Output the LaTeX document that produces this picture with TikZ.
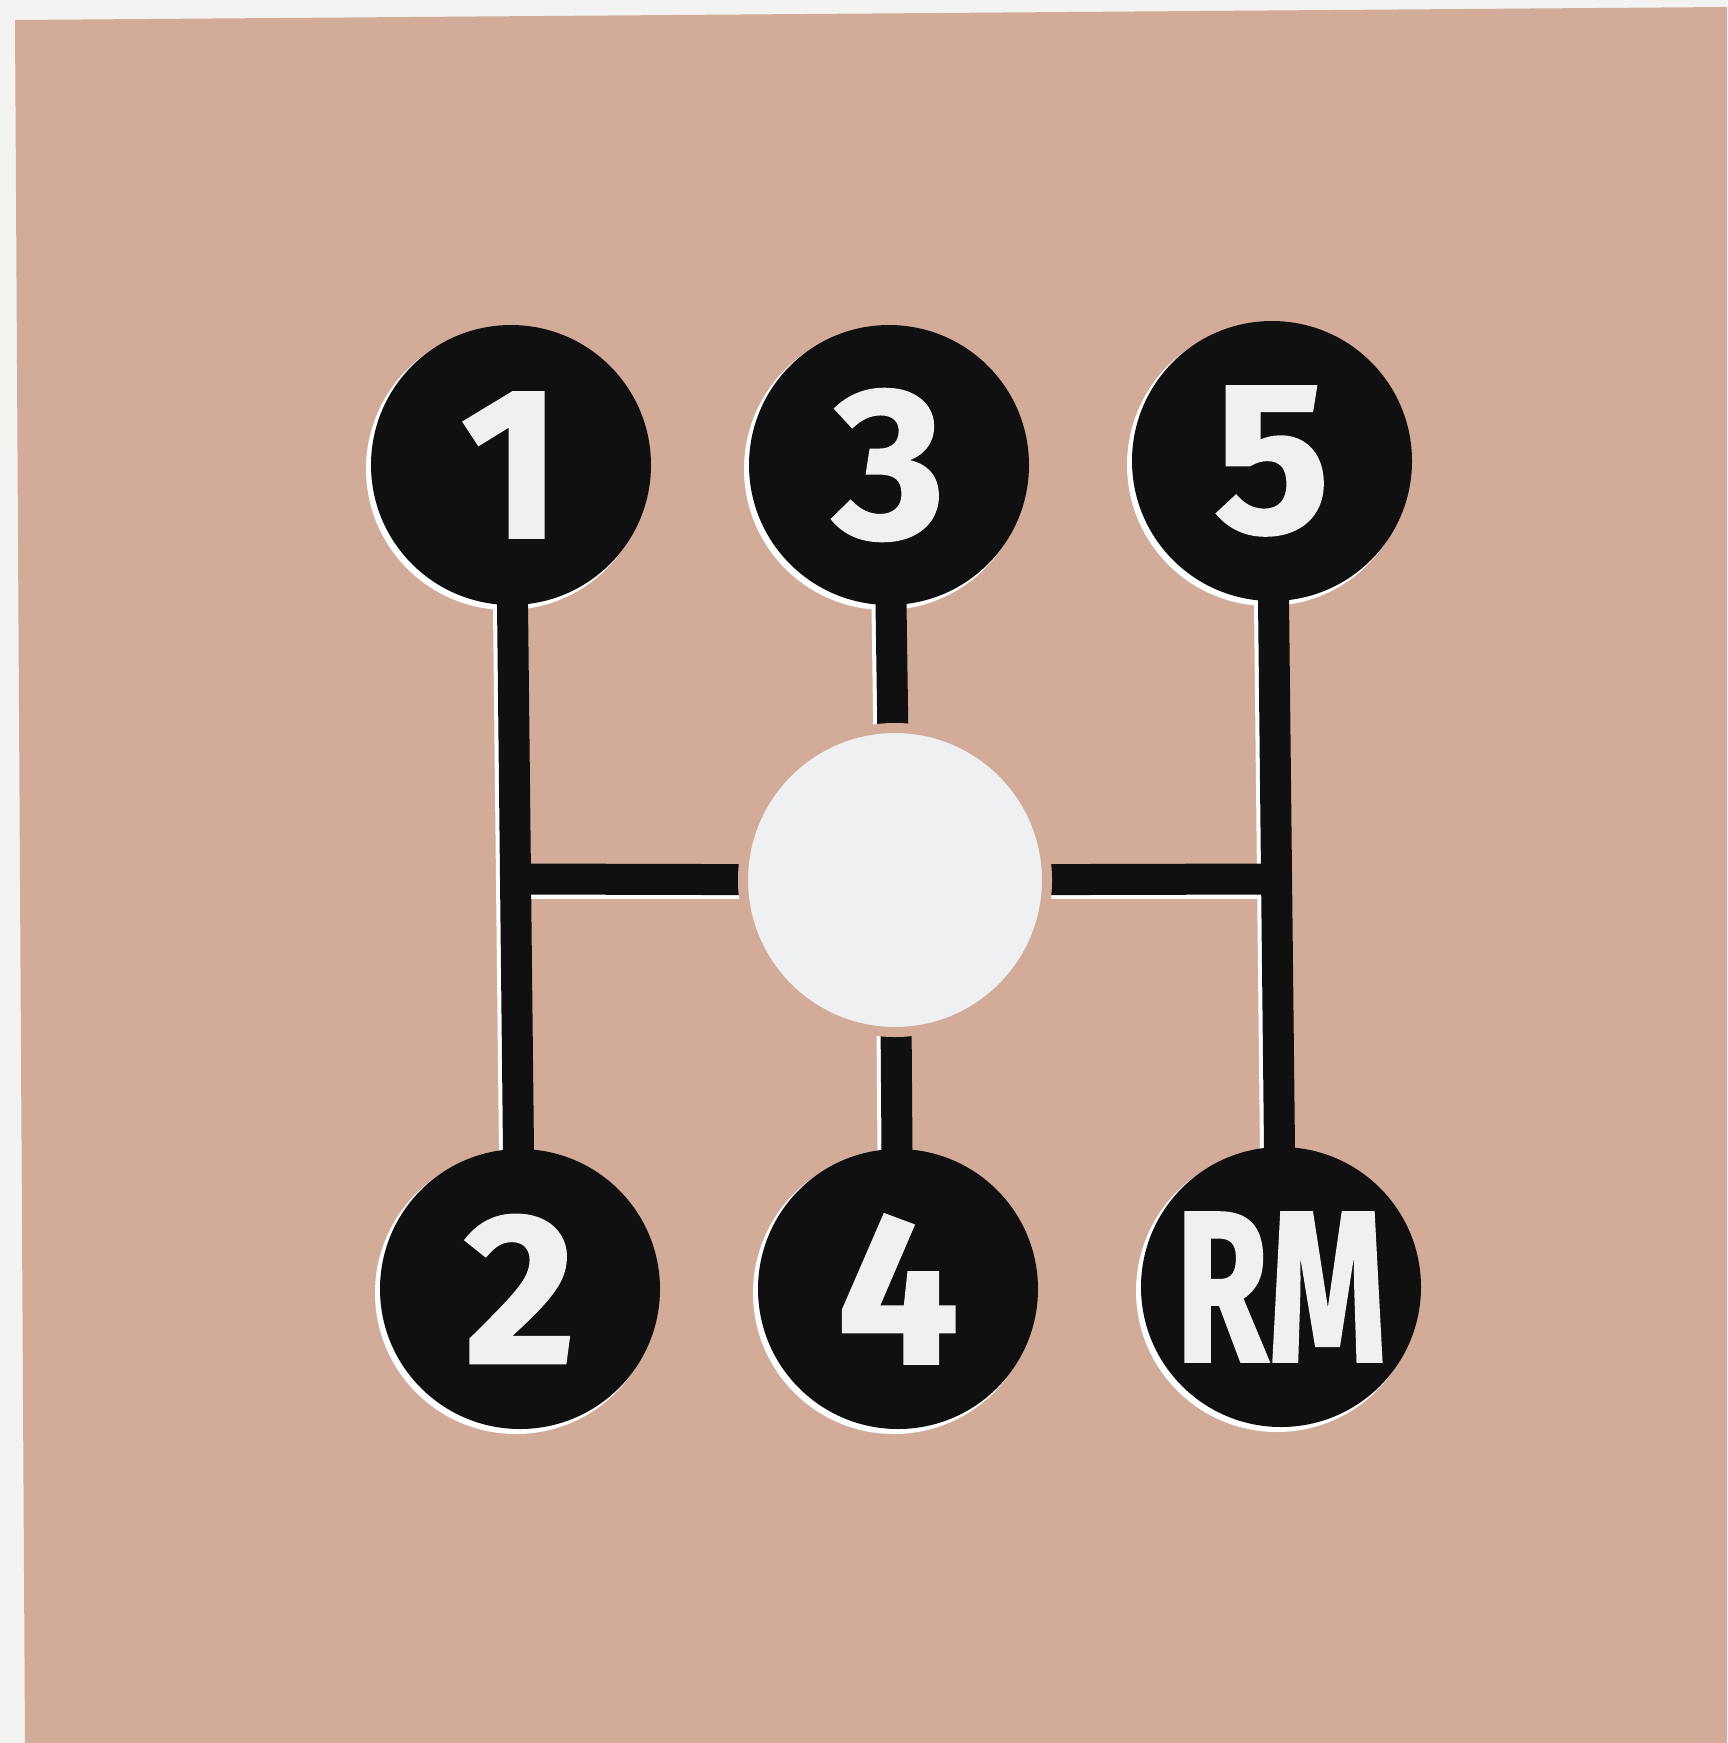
\documentclass[tikz,border=0pt]{standalone}
\usepackage{fontspec}
\usepackage{graphicx}
\setmainfont{Liberation Sans}
\newfontfamily\gearfont[FakeBold=1.2]{Fira Sans}
\definecolor{paper}{HTML}{F3F3F2}
\definecolor{beige}{HTML}{D2AC99}
\definecolor{ink}{HTML}{111010}
\definecolor{chalk}{HTML}{EEF0F1}
\pgfdeclarelayer{back}
\pgfdeclarelayer{halo}
\pgfdeclarelayer{rods}
\pgfsetlayers{back,halo,rods,main}
\tikzset{
  gear/.style={circle, fill=ink, inner sep=0pt, minimum size=280pt, text=chalk,
    font=\gearfont\bfseries\fontsize{215}{215}\selectfont},
  knobstyle/.style={circle, fill=chalk, draw=beige, line width=10pt, inner sep=0pt, minimum size=304pt},
  bar/.style={draw=ink, line width=31pt},
  halobar/.style={draw=white, line width=31pt, transform canvas={shift={(-4pt,-4pt)}}},
  halodisc/.style={fill=white, transform canvas={shift={(-4pt,-4pt)}}},
}
\begin{document}
\begin{tikzpicture}[x=1pt,y=-1pt]
\useasboundingbox (0,0) rectangle (1727,1743);
\begin{pgfonlayer}{back}
\fill[paper] (0,0) rectangle (1727,1743);
\fill[beige] (15,20) -- (1727,7) -- (1727,1743) -- (25,1743) -- cycle;
\end{pgfonlayer}

\node[gear] (g1) at (511,465) {1};
\node[gear] (g3) at (889,465) {3};
\node[gear] (g5) at (1272,461) {5};
\node[gear] (g2) at (520,1289) {2};
\node[gear] (g4) at (898,1289) {4};
\node[gear] (gR) at (1281,1287) {\scalebox{0.7}[1]{RM}};
\node[knobstyle] (knob) at (895,880) {};
\coordinate (hl) at (516,879);
\coordinate (hr) at (1276,879);

\begin{pgfonlayer}{halo}
  \foreach \n in {g1,g3,g5,g2,g4,gR}{
    \fill[halodisc] (\n.center) circle (141pt);
  }
  \draw[halobar] (g1.center) -- (g2.center);
  \draw[halobar] (g5.center) -- (gR.center);
  \draw[halobar] (g3.center) -- (knob.center) -- (g4.center);
  \draw[halobar] (hl) -- (hr);
\end{pgfonlayer}

\begin{pgfonlayer}{rods}
\draw[bar] (g1.center) -- (g2.center);
\draw[bar] (g5.center) -- (gR.center);
\draw[bar] (g3.center) -- (knob.center);
\draw[bar] (knob.center) -- (g4.center);
\draw[bar] (hl) -- (knob.center);
\draw[bar] (knob.center) -- (hr);
\end{pgfonlayer}
\end{tikzpicture}
\end{document}
